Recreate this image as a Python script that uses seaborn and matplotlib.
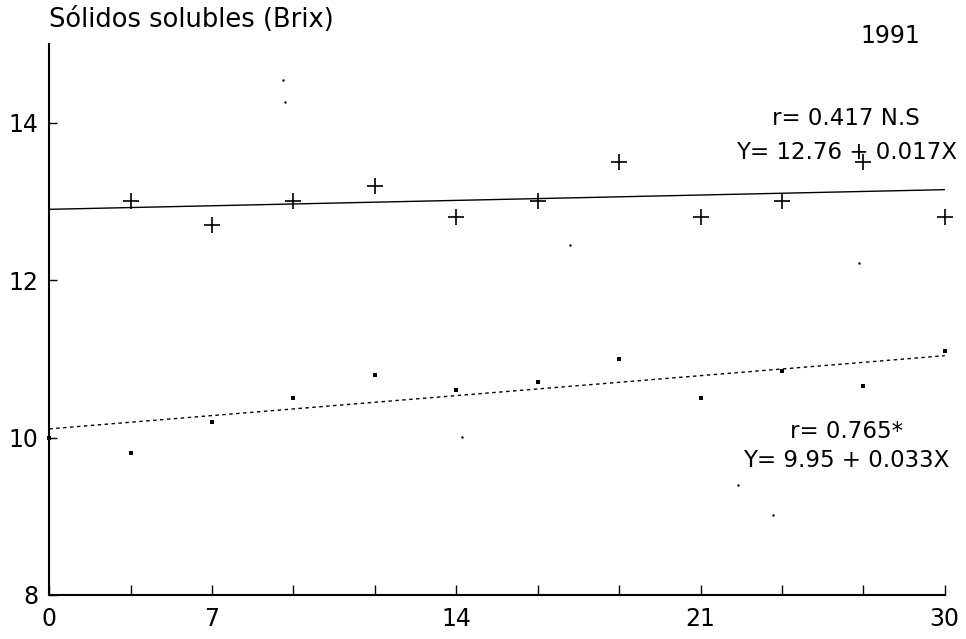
import matplotlib
matplotlib.use("Agg")
import matplotlib.pyplot as plt
import seaborn as sns
import pandas as pd

# ---- data ----
tick_pos = list(range(12))
tick_labels = ["0", "", "7", "", "", "14", "", "", "21", "", "", "30"]

upper_x = [1, 2, 3, 4, 5, 6, 7, 8, 9, 10, 11]
upper_y = [13.0, 12.7, 13.0, 13.2, 12.8, 13.0, 13.5, 12.8, 13.0, 13.5, 12.8]

lower_x = [0, 1, 2, 3, 4, 5, 6, 7, 8, 9, 10, 11]
lower_y = [10.0, 9.8, 10.2, 10.5, 10.8, 10.6, 10.7, 11.0, 10.5, 10.85, 10.65, 11.1]

stray_x = [2.87, 2.90, 6.40, 9.95, 5.07, 8.46, 8.89]
stray_y = [14.54, 14.27, 12.45, 12.22, 10.01, 9.40, 9.02]

fit_x = [0, 11]
upper_fit = [12.90, 13.15]
lower_fit = [10.11, 11.04]

title = "Sólidos solubles (Brix)"
year = "1991"
upper_txt = ["r= 0.417 N.S", "Y= 12.76 + 0.017X"]
lower_txt = ["r= 0.765*", "Y= 9.95 + 0.033X"]

# ---- plotting ----
sns.set_theme(style="ticks")
plt.rcParams["font.family"] = ["DejaVu Sans"]
plt.rcParams["text.color"] = "black"
plt.rcParams["xtick.color"] = "black"
plt.rcParams["ytick.color"] = "black"

fig = plt.figure(figsize=(9.66, 6.39), dpi=100)
ax = fig.add_axes([0.051, 0.069, 0.927, 0.862])

df_up = pd.DataFrame({"x": upper_x, "y": upper_y})
df_lo = pd.DataFrame({"x": lower_x, "y": lower_y})
df_st = pd.DataFrame({"x": stray_x, "y": stray_y})
df_fu = pd.DataFrame({"x": fit_x, "y": upper_fit})
df_fl = pd.DataFrame({"x": fit_x, "y": lower_fit})

sns.lineplot(data=df_fu, x="x", y="y", ax=ax, color="black", lw=1.0)
sns.lineplot(data=df_fl, x="x", y="y", ax=ax, color="black", lw=1.0,
             linestyle=(0, (2.5, 2.5)))
sns.scatterplot(data=df_up, x="x", y="y", ax=ax, marker="+", s=130,
                color="black", linewidth=1.2, clip_on=False, zorder=3)
sns.scatterplot(data=df_lo, x="x", y="y", ax=ax, marker="s", s=10,
                color="black", linewidth=0, clip_on=False, zorder=3)
sns.scatterplot(data=df_st, x="x", y="y", ax=ax, marker="o", s=3,
                color="black", linewidth=0, zorder=3)

ax.set_xlim(0, 11)
ax.set_ylim(8, 15)
ax.set_xticks(tick_pos)
ax.set_xticklabels(tick_labels)
ax.set_yticks([8, 10, 12, 14])
ax.set_yticklabels(["8", "10", "12", "14"])
ax.set_xlabel("")
ax.set_ylabel("")
ax.tick_params(axis="x", direction="in", length=7, width=1, pad=9,
               labelsize=17, colors="black")
ax.tick_params(axis="y", direction="in", length=6, width=1, pad=8,
               labelsize=17, colors="black")
sns.despine(ax=ax)
for s in ["left", "bottom"]:
    ax.spines[s].set_linewidth(1.5)
    ax.spines[s].set_color("black")

fig.text(0.0507, 0.969, title, fontsize=18.5, ha="left", va="center", color="black")
fig.text(0.922, 0.944, year, fontsize=17, ha="center", va="center", color="black")
fig.text(0.876, 0.815, upper_txt[0], fontsize=16.5, ha="center", va="center", color="black")
fig.text(0.876, 0.761, upper_txt[1], fontsize=16.5, ha="center", va="center", color="black")
fig.text(0.876, 0.3255, lower_txt[0], fontsize=16.5, ha="center", va="center", color="black")
fig.text(0.876, 0.280, lower_txt[1], fontsize=16.5, ha="center", va="center", color="black")

fig.savefig("out.png", dpi=100)
